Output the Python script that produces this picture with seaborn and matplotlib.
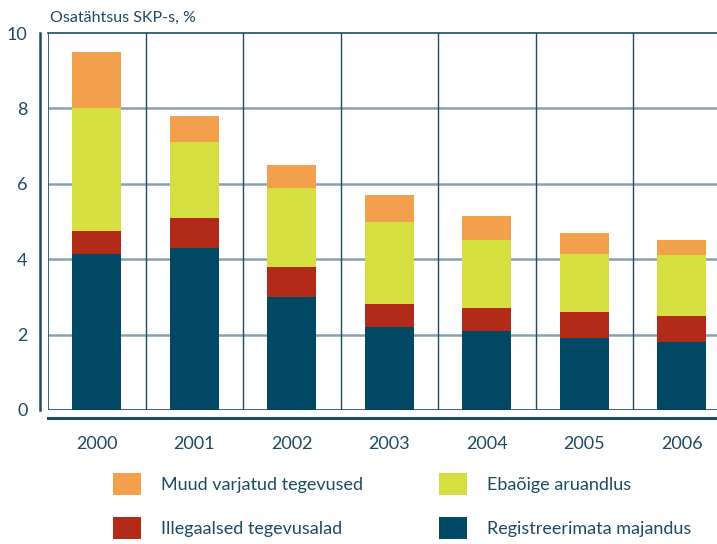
import matplotlib

matplotlib.use("Agg")
import matplotlib.pyplot as plt
import numpy as np
import pandas as pd
import seaborn as sns
from matplotlib.patches import Patch

years = ["2000", "2001", "2002", "2003", "2004", "2005", "2006"]
registreerimata = [4.15, 4.3, 3.0, 2.2, 2.1, 1.9, 1.8]
illegaalsed = [0.6, 0.8, 0.8, 0.6, 0.6, 0.7, 0.7]
ebaoige = [3.25, 2.0, 2.1, 2.2, 1.8, 1.55, 1.6]
muud = [1.5, 0.7, 0.6, 0.7, 0.65, 0.55, 0.4]

series = [
    ("Registreerimata majandus", registreerimata, "#004864"),
    ("Illegaalsed tegevusalad", illegaalsed, "#b12b18"),
    ("Ebaõige aruandlus", ebaoige, "#d5df40"),
    ("Muud varjatud tegevused", muud, "#f3a04c"),
]

TEXT = "#1d4a64"
DARK = "#1d4b63"
GRID = "#85a2b3"

sns.set_style("white")
plt.rcParams["font.family"] = ["Lato", "DejaVu Sans"]

fig = plt.figure(figsize=(7.17, 5.44), dpi=100)
ax = fig.add_axes([48 / 717, 134 / 544, 682.5 / 717, 377 / 544])

# stacked bars: draw cumulative totals from the top layer down
df = pd.DataFrame({"year": years})
tops = np.cumsum([s[1] for s in series], axis=0)
for (name, _, color), top in reversed(list(zip(series, tops))):
    df["value"] = top
    sns.barplot(data=df, x="year", y="value", color=color, saturation=1,
                width=0.5, edgecolor="none", linewidth=0, ax=ax, zorder=3)

ax.set_xlim(-0.5, 6.5)
ax.set_ylim(0, 10)
ax.set_xlabel("")
ax.set_ylabel("")

# grid
ax.set_yticks([0, 2, 4, 6, 8, 10])
for y in [2, 4, 6, 8]:
    ax.axhline(y, color=GRID, lw=1.8, zorder=1)
bounds = np.arange(-0.5, 7, 1.0)
for x in bounds[1:-1]:
    ax.axvline(x, color=DARK, lw=1.0, zorder=1)
ax.axvline(-0.5, color=DARK, lw=1.2, zorder=2)
ax.axhline(0, color=DARK, lw=1.2, zorder=2)

# spines
ax.spines["right"].set_visible(False)
ax.spines["top"].set_color(DARK)
ax.spines["top"].set_linewidth(1.2)
ax.spines["left"].set_position(("outward", 5.8))
ax.spines["left"].set_color(DARK)
ax.spines["left"].set_linewidth(1.8)
ax.spines["bottom"].set_position(("outward", 5.8))
ax.spines["bottom"].set_color(DARK)
ax.spines["bottom"].set_linewidth(2.2)

ax.set_xticks(bounds, minor=True)
ax.tick_params(axis="x", which="major", length=0, pad=13, labelsize=13, colors=TEXT)
ax.tick_params(axis="x", which="minor", length=4, width=1.2, color=DARK, direction="out")
ax.tick_params(axis="y", length=3, width=1.2, color=DARK, labelsize=13, labelcolor=TEXT, pad=6)

fig.text(50 / 717, 1 - 18 / 544, "Osatähtsus SKP-s, %", fontsize=11.5, color=TEXT,
         va="center", ha="left")

handles = [Patch(facecolor=c, edgecolor="none") for _, _, c in series]
names = [n for n, _, _ in series]
order = [3, 1, 2, 0]
fig.legend([handles[i] for i in order], [names[i] for i in order],
           loc="upper left", bbox_to_anchor=(113 / 717, 1 - 473 / 544),
           ncol=2, frameon=False, fontsize=13, labelcolor=TEXT,
           handlelength=1.55, handleheight=1.5, handletextpad=1.1,
           labelspacing=1.22, columnspacing=4.2, borderpad=0, borderaxespad=0)

fig.savefig("out.png", dpi=100)
